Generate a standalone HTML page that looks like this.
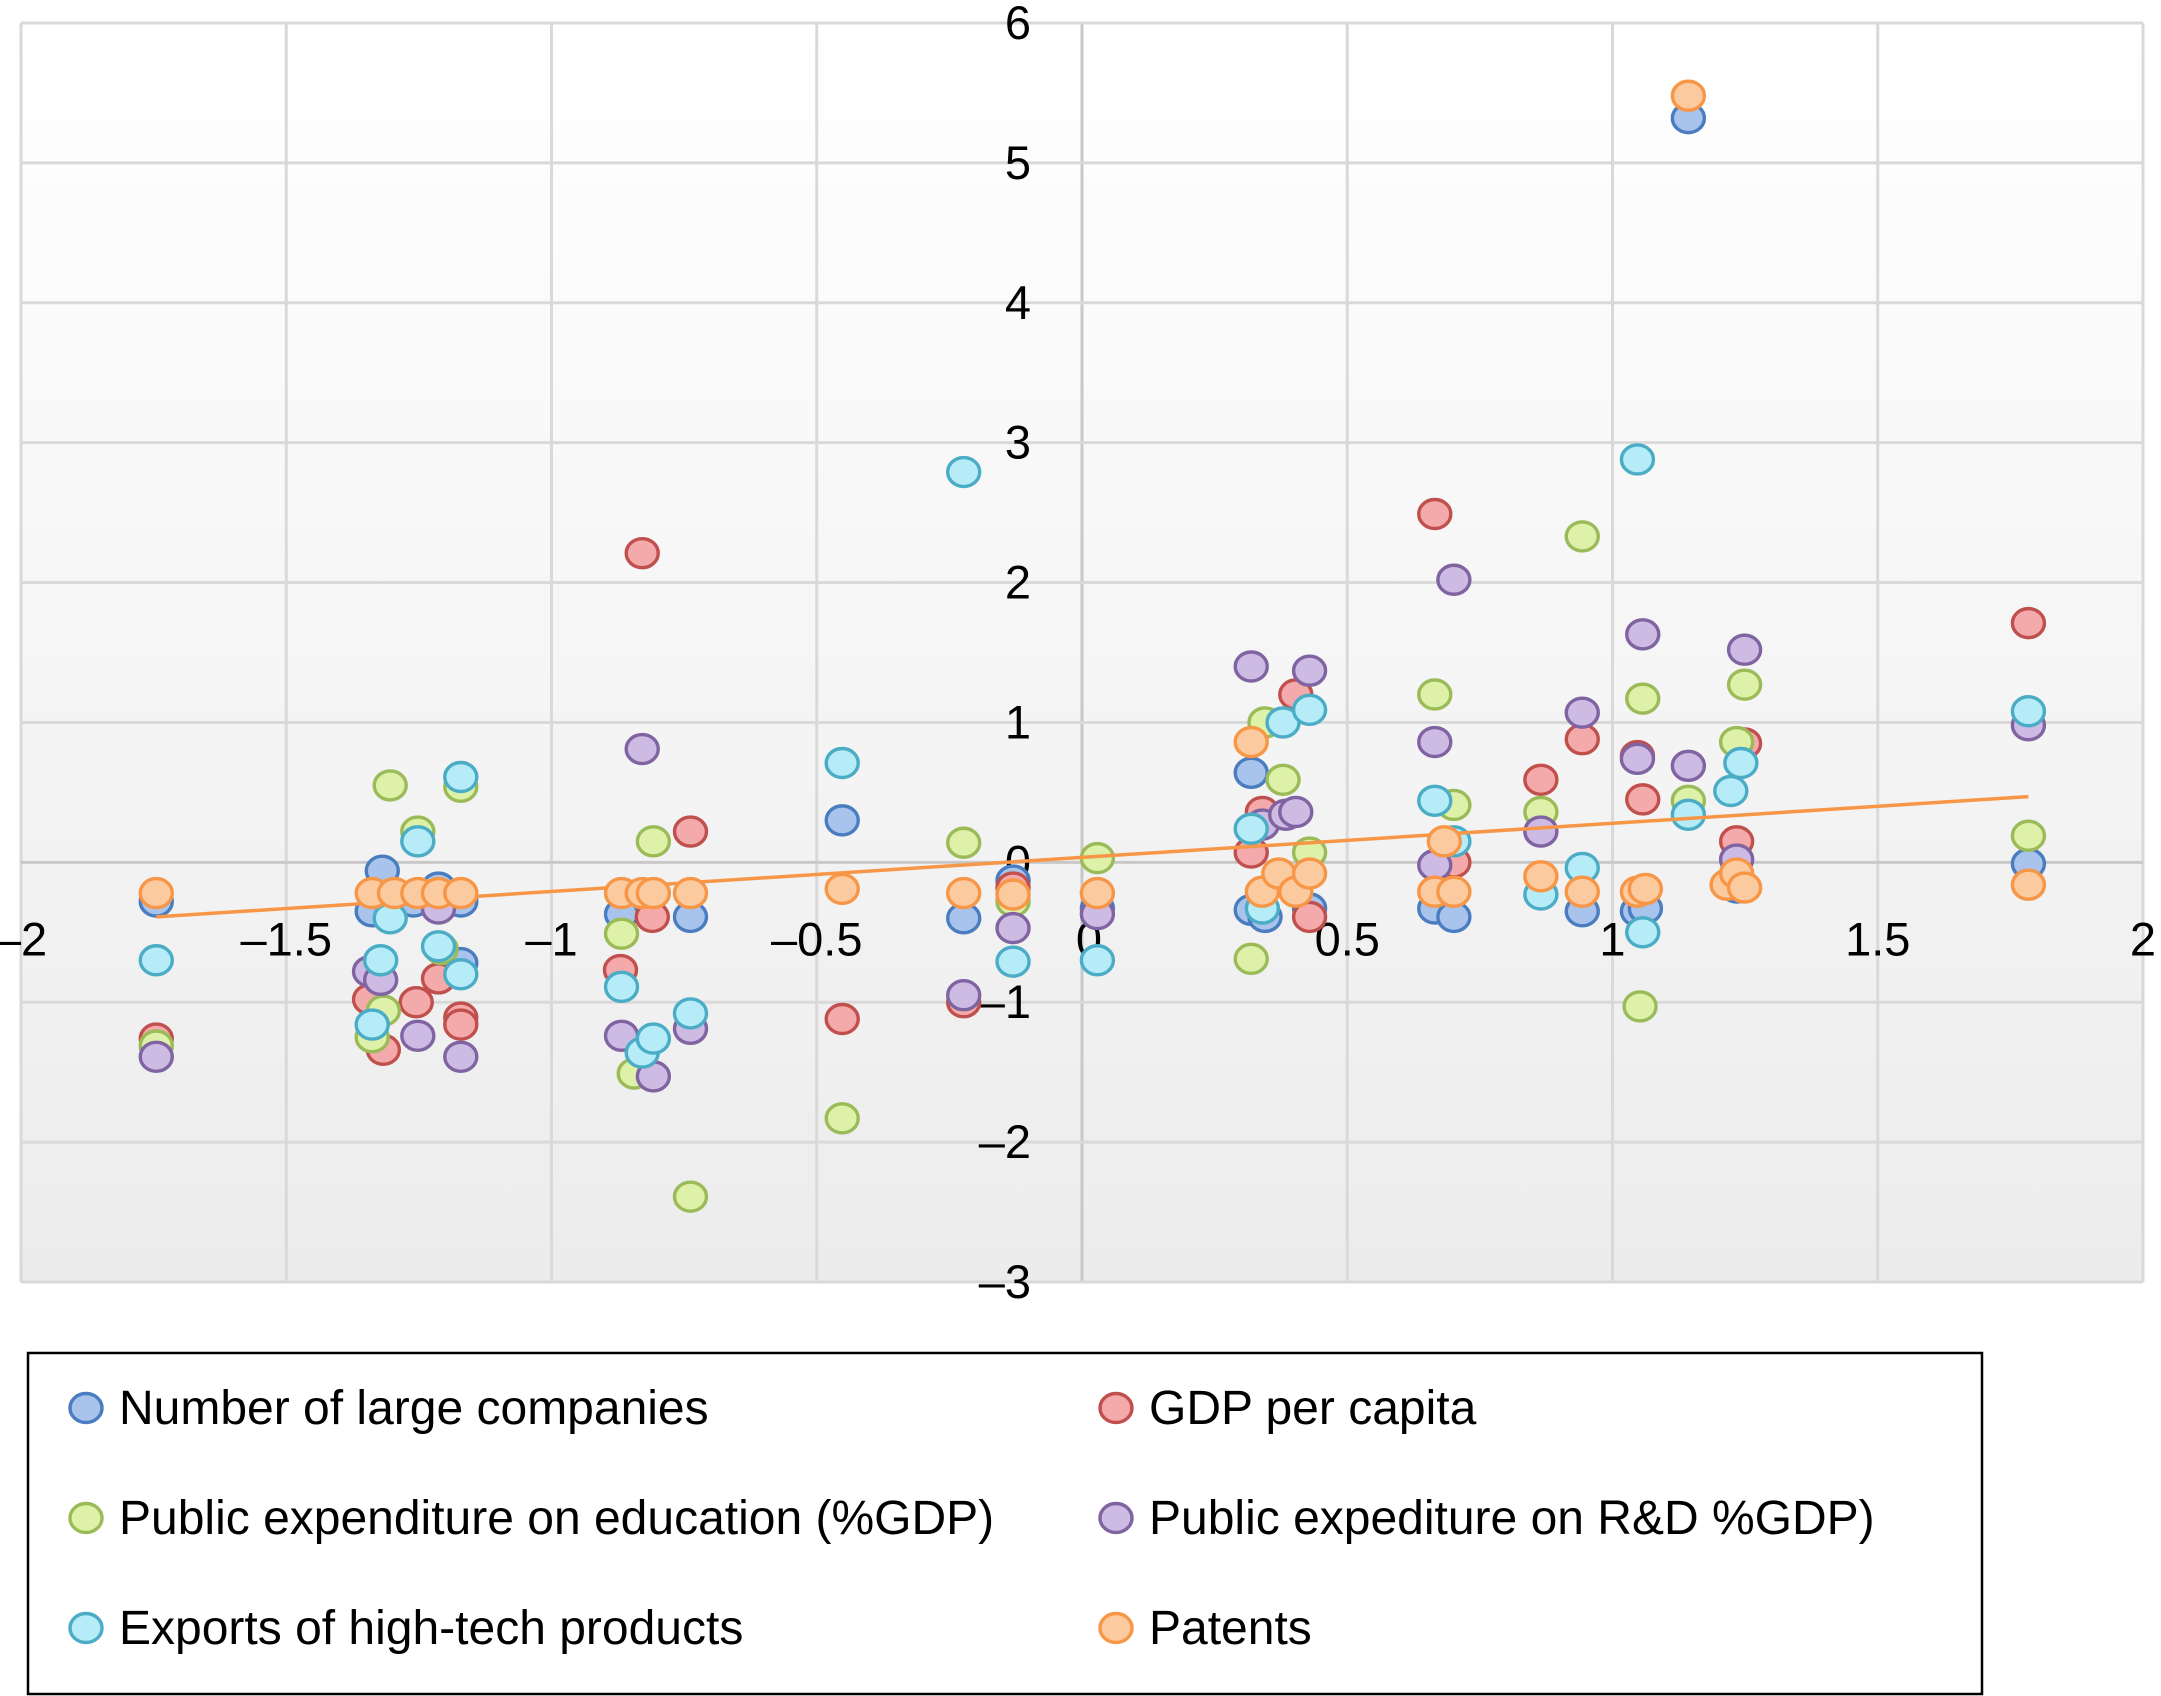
<!DOCTYPE html>
<html><head><meta charset="utf-8"><style>
html,body{margin:0;padding:0;background:#fff;}
svg{display:block;font-family:"Liberation Sans",Arial,sans-serif;}
</style></head><body>
<svg id="chart" width="2161" height="1696" viewBox="0 0 2161 1696" xmlns="http://www.w3.org/2000/svg">
<defs>
<linearGradient id="bg" x1="0" y1="0" x2="0" y2="1">
<stop offset="0" stop-color="#ffffff"/><stop offset="1" stop-color="#ececec"/>
</linearGradient>
</defs>
<rect x="21" y="23" width="2122" height="1259" fill="url(#bg)"/>
<g id="grid"></g>
<g id="ticks"></g>
<g id="marks"></g>
<g>
<rect x="28" y="1353" width="1954" height="341" fill="#fff" stroke="#000" stroke-width="2.5"/>
<g id="legend"></g>
</g>
</svg>
<script>
const xTicks=[-2,-1.5,-1,-0.5,0,0.5,1,1.5,2];
const yTicks=[-3,-2,-1,0,1,2,3,4,5,6];
const seriesNames=["Number of large companies","GDP per capita","Public expenditure on education (%GDP)","Public expediture on R&D %GDP)","Exports of high-tech products","Patents"];
const blueX=[-1.745,-1.319,-1.338,-1.260,-1.213,-1.171,-0.868,-0.738,-0.452,-0.223,-0.130,0.029,0.319,0.345,0.429,0.665,0.701,0.943,1.047,1.143,1.234,1.784,1.062,-1.171,0.319];
const blueY=[-0.28,-0.06,-0.35,-0.28,-0.18,-0.28,-0.37,-0.39,0.30,-0.40,-0.13,-0.33,-0.34,-0.39,-0.33,-0.33,-0.39,-0.35,-0.35,5.32,-0.18,-0.01,-0.33,-0.72,0.64];
const redX=[-1.745,-1.343,-1.317,-1.255,-1.213,-1.171,-1.171,-0.870,-0.829,-0.810,-0.738,-0.452,-0.223,-0.130,0.319,0.340,0.403,0.429,0.665,0.701,0.865,0.943,1.047,1.057,1.234,1.249,1.784];
const redY=[-1.26,-0.98,-1.34,-1.00,-0.83,-1.11,-1.16,-0.77,2.21,-0.39,0.22,-1.12,-1.00,-0.18,0.07,0.36,1.20,-0.39,2.49,0,0.59,0.88,0.76,0.45,0.15,0.85,1.71];
const greenX=[-1.745,-1.304,-1.338,-1.317,-1.252,-1.171,-1.208,-0.868,-0.808,-0.844,-0.738,-0.452,-0.223,-0.130,0.029,0.319,0.345,0.379,0.429,0.665,0.701,0.865,0.943,1.057,1.052,1.143,1.234,1.249,1.784];
const greenY=[-1.31,0.55,-1.25,-1.06,0.22,0.54,-0.62,-0.51,0.15,-1.51,-2.39,-1.83,0.14,-0.28,0.03,-0.69,1.00,0.59,0.07,1.20,0.41,0.36,2.33,1.17,-1.03,0.44,0.86,1.27,0.19];
const purpleX=[-1.745,-1.343,-1.322,-1.252,-1.213,-1.171,-0.868,-0.808,-0.829,-0.738,-0.223,-0.130,0.029,0.319,0.340,0.384,0.403,0.429,0.665,0.701,0.865,0.943,1.047,1.057,1.143,1.234,1.249,1.784,0.665];
const purpleY=[-1.39,-0.78,-0.84,-1.24,-0.33,-1.39,-1.24,-1.53,0.81,-1.19,-0.95,-0.47,-0.37,1.40,0.27,0.34,0.36,1.37,0.86,2.02,0.22,1.07,0.74,1.63,0.69,0.02,1.52,0.98,-0.02];
const cyanX=[-1.745,-1.338,-1.322,-1.304,-1.252,-1.213,-1.171,-1.171,-0.868,-0.829,-0.808,-0.738,-0.452,-0.223,-0.130,0.029,0.319,0.340,0.379,0.429,0.665,0.701,0.865,0.943,1.047,1.057,1.143,1.223,1.242,1.784];
const cyanY=[-0.70,-1.16,-0.70,-0.40,0.15,-0.60,0.61,-0.80,-0.89,-1.36,-1.26,-1.08,0.71,2.79,-0.71,-0.70,0.24,-0.33,1.00,1.09,0.44,0.15,-0.23,-0.04,2.88,-0.50,0.34,0.51,0.71,1.08];
const orangeX=[-1.745,-1.338,-1.296,-1.252,-1.213,-1.171,-0.868,-0.829,-0.808,-0.738,-0.452,-0.223,-0.130,0.029,0.319,0.340,0.371,0.403,0.429,0.665,0.683,0.701,0.865,0.943,1.047,1.062,1.143,1.216,1.234,1.249,1.784];
const orangeY=[-0.22,-0.22,-0.22,-0.22,-0.22,-0.22,-0.22,-0.22,-0.22,-0.22,-0.19,-0.22,-0.23,-0.22,0.86,-0.21,-0.08,-0.21,-0.08,-0.21,0.15,-0.21,-0.10,-0.21,-0.21,-0.19,5.48,-0.16,-0.08,-0.18,-0.16];
const trendX=[-1.745,1.784];
const trendY=[-0.39,0.47];

const NS="http://www.w3.org/2000/svg";
const X0=21,X1=2143,Y0=23,Y1=1282;
function xs(v){return X0+(v+2)/4*(X1-X0);}
function ys(v){return Y1-(v+3)/9*(Y1-Y0);}
function mk(tag,attrs,parent){const e=document.createElementNS(NS,tag);for(const k in attrs)e.setAttribute(k,attrs[k]);parent.appendChild(e);return e;}
function fmt(v){return v<0?"\u2013"+String(-v):String(v);}
const grid=document.getElementById('grid'),ticks=document.getElementById('ticks'),marks=document.getElementById('marks'),legend=document.getElementById('legend');
xTicks.forEach(t=>{
  const l=mk('line',{x1:xs(t),x2:xs(t),y1:Y0,y2:Y1,stroke:t===0?'#c8c8c8':'#d9d9d9','stroke-width':3},grid);
  
  
  const tx=mk('text',{x:xs(t)+(t===0?7:0),y:ys(0)+93,'font-size':47,'text-anchor':'middle',fill:'#000'},ticks);
  tx.textContent=fmt(t);
  
  
});
yTicks.forEach(t=>{
  const l=mk('line',{x1:X0,x2:X1,y1:ys(t),y2:ys(t),stroke:t===0?'#c8c8c8':'#d9d9d9','stroke-width':3},grid);
  
  
  const tx=mk('text',{x:1031,y:ys(t)+16,'font-size':47,'text-anchor':'end',fill:'#000'},ticks);
  tx.textContent=fmt(t);
  
  
});
const styles=[["#a9c4ec","#4a7cc0"],["#f4aaaa","#c0504d"],["#def1a8","#9bbb59"],["#cdbbe4","#8064a2"],["#b5ecf8","#4bacc6"],["#fcca9f","#f79646"]];
const sets=[[blueX,blueY],[redX,redY],[greenX,greenY],[purpleX,purpleY],[cyanX,cyanY],[orangeX,orangeY]];
const names=['number-of-large-companies','gdp-per-capita','education-expenditure','rd-expenditure','hightech-exports','patents'];
sets.forEach((s,i)=>{
  if(i===5){
    const tl=mk('line',{x1:xs(trendX[0]),y1:ys(trendY[0]),x2:xs(trendX[1]),y2:ys(trendY[1]),stroke:'#f79646','stroke-width':3.5},marks);
    
    
  }
  s[0].forEach((xv,j)=>{
    const c=mk('ellipse',{cx:xs(xv),cy:ys(s[1][j]),rx:16,ry:14.5,fill:styles[i][0],stroke:styles[i][1],'stroke-width':3.4},marks);
    
    
  });
});
seriesNames.forEach((n,i)=>{
  const col=i%2,row=Math.floor(i/2);
  const mx=col===0?86:1116, ty=1408+row*110;
  const c=mk('ellipse',{cx:mx,cy:ty,rx:16,ry:14.5,fill:styles[i][0],stroke:styles[i][1],'stroke-width':3.4},legend);
  
  
  const t=mk('text',{x:mx+33,y:ty+16,'font-size':48,fill:'#000'},legend);
  t.textContent=n;
  
  
});
</script>
</body></html>
